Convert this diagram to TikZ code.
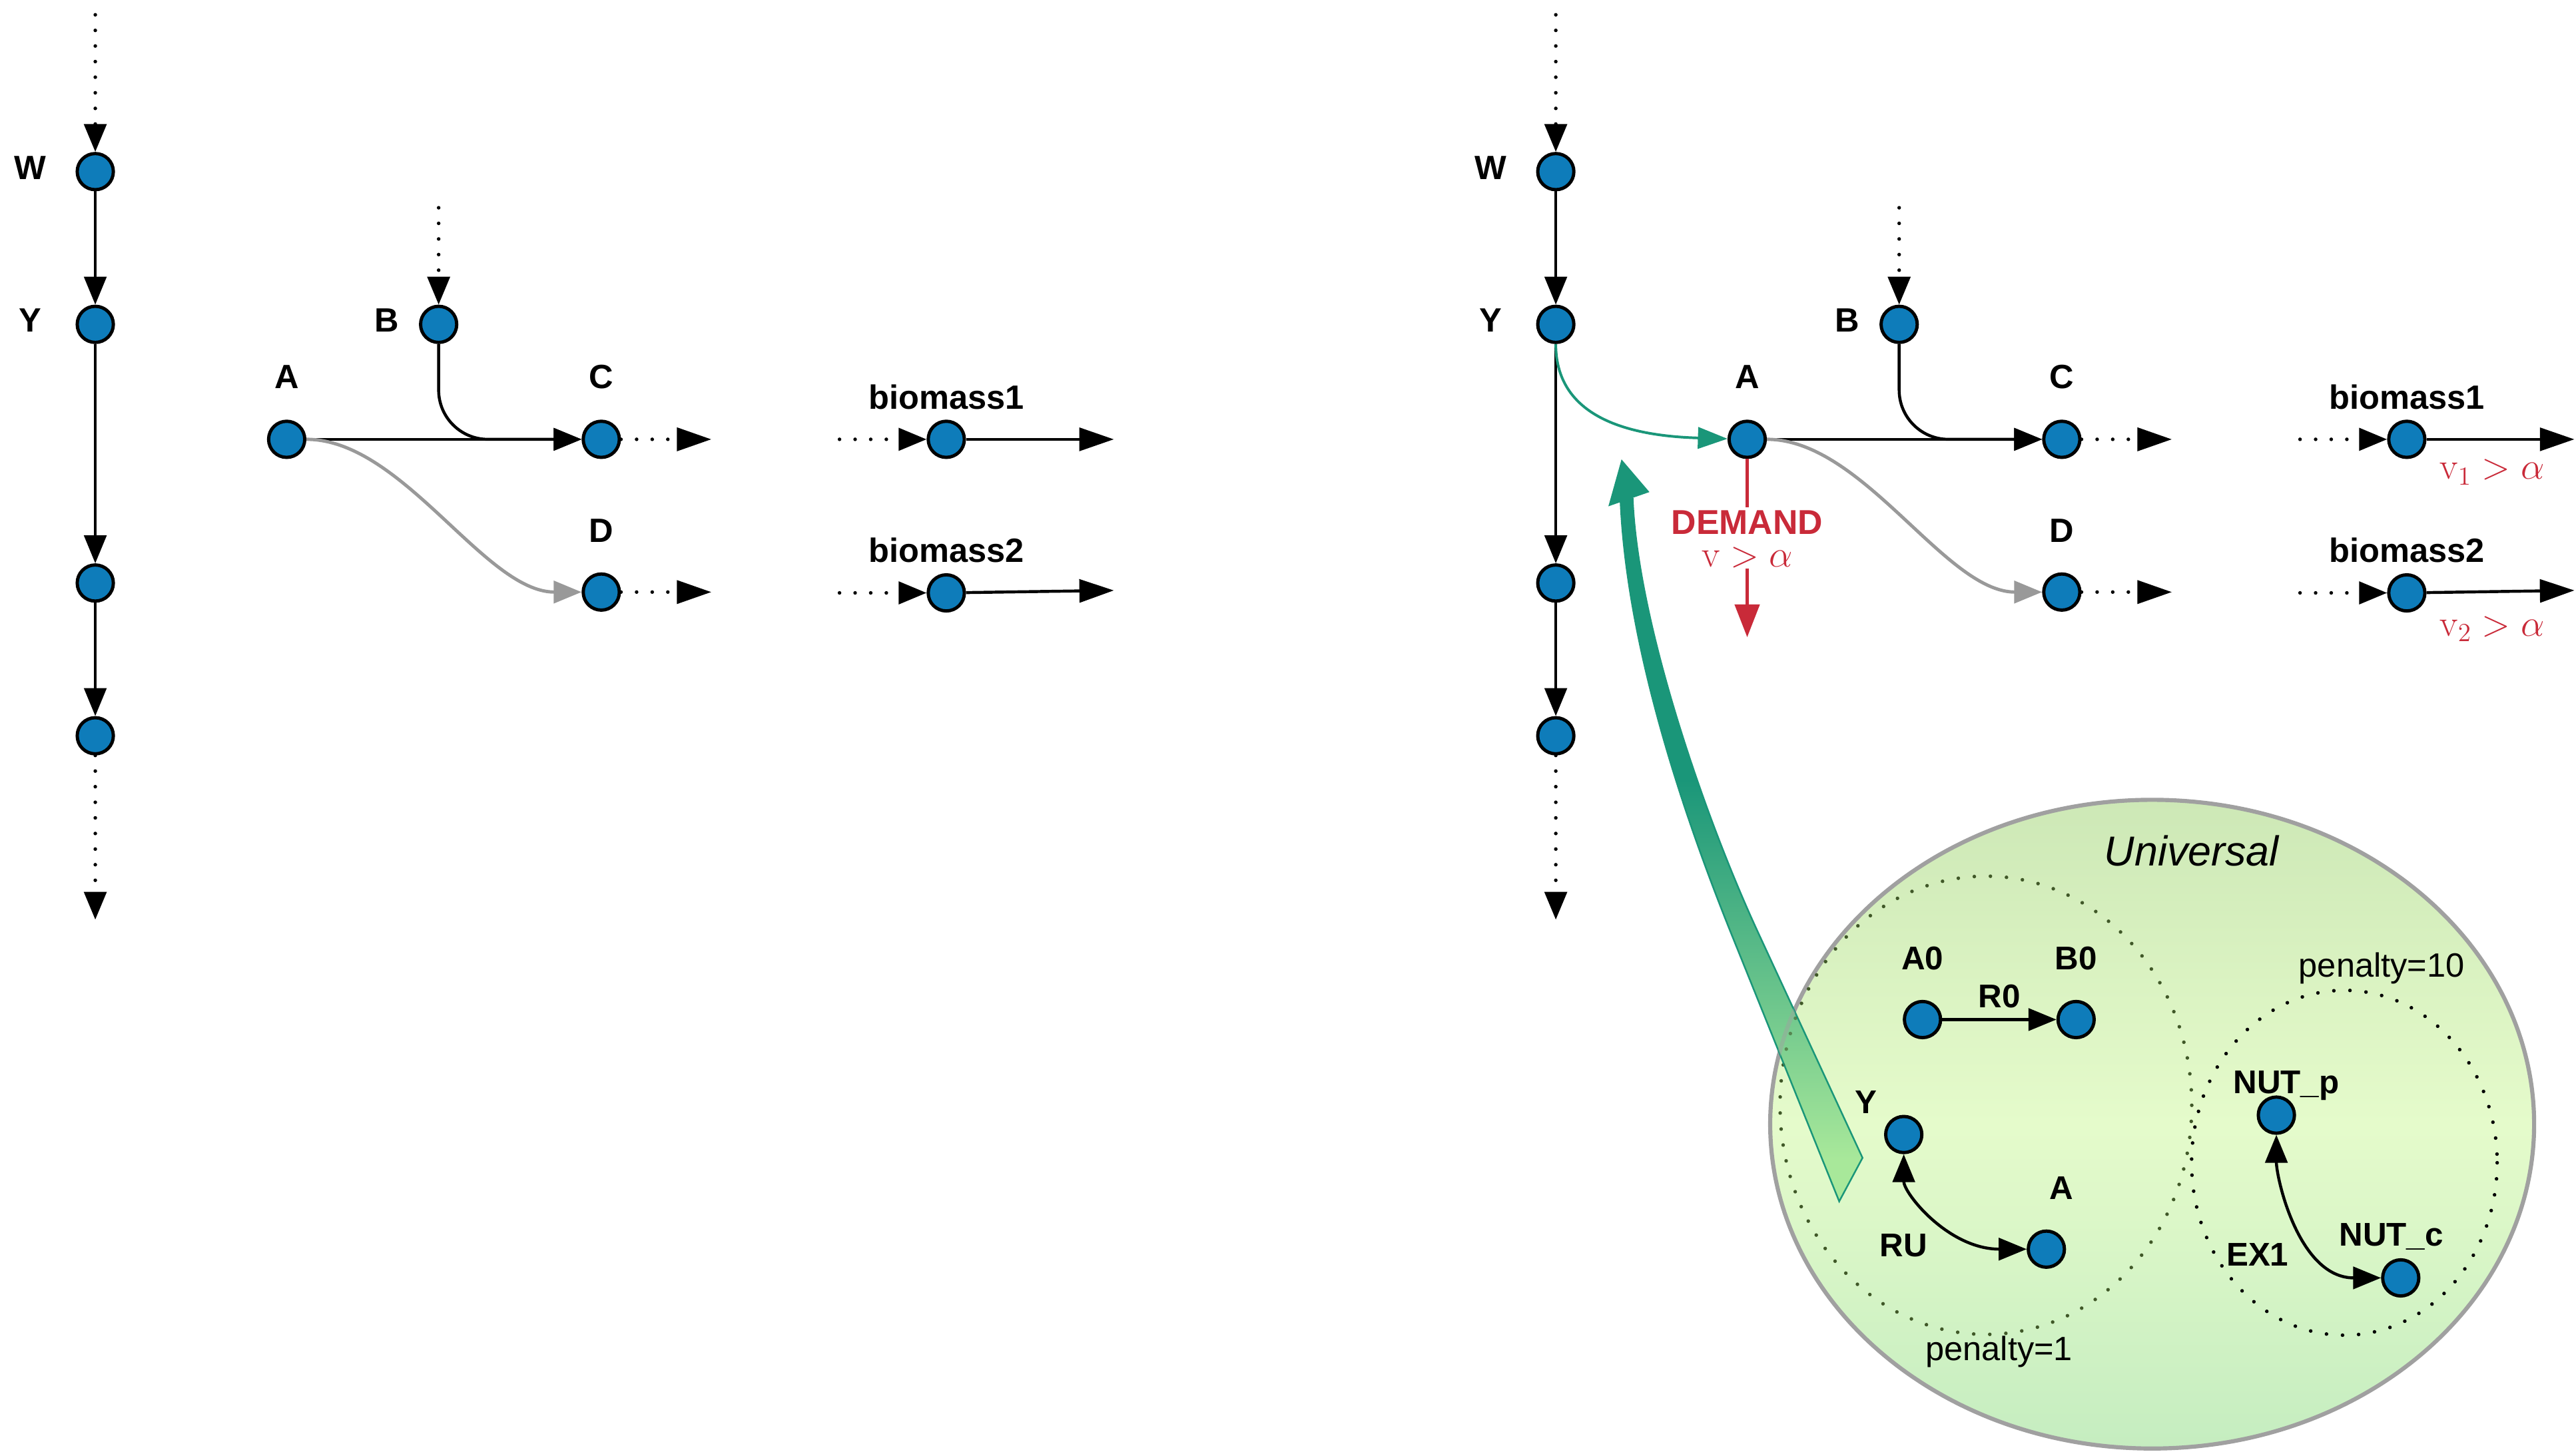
\documentclass[tikz,border=0pt]{standalone}
\usepackage{fontspec}
\usepackage{graphicx}
\usetikzlibrary{arrows.meta}
\newfontfamily\labfont{Liberation Sans}

\definecolor{metblue}{RGB}{14,124,186}
\definecolor{flowteal}{RGB}{26,150,121}
\definecolor{demred}{RGB}{201,42,57}
\definecolor{altgrey}{RGB}{153,153,153}
\definecolor{univedge}{RGB}{160,160,160}
\definecolor{univtop}{RGB}{205,232,182}
\definecolor{univmid}{RGB}{229,251,203}
\definecolor{univbot}{RGB}{197,237,192}
\definecolor{dotgreen}{RGB}{64,88,40}
\definecolor{bandlight}{RGB}{168,232,154}
\pgfdeclareverticalshading{shaftfade}{100bp}{color(0bp)=(bandlight); color(28bp)=(bandlight); color(55bp)=(flowteal); color(100bp)=(flowteal)}

\begin{document}
\begin{tikzpicture}[x=1pt,y=1pt,yscale=-1,
  >={Triangle[length=17pt,width=13.5pt]},
  met/.style={circle,draw=black,fill=metblue,line width=2pt,minimum size=22pt,inner sep=0pt},
  lbl/.style={inner sep=0pt,font=\labfont\bfseries\fontsize{20.5}{24}\selectfont},
  sublbl/.style={inner sep=0pt,font=\labfont\bfseries\fontsize{20}{24}\selectfont},
  pentxt/.style={inner sep=0pt,font=\labfont\fontsize{20.5}{24}\selectfont},
  flux/.style={line width=1.8pt,->},
  outflux/.style={line width=1.8pt,-{Triangle[length=21pt,width=14pt]}},
  dotflux/.style={line width=2.2pt,dash pattern=on 0pt off 9.5pt,line cap=round,->},
  dotout/.style={dotflux,-{Triangle[length=21pt,width=14pt]}},
  greyflux/.style={altgrey,line width=2pt,->},
  flow/.style={flowteal,line width=1.6pt,-{Triangle[length=18pt,width=13pt]}},
  demtxt/.style={demred,inner sep=1.5pt,font=\labfont\bfseries\fontsize{21}{24}\selectfont},
  demmath/.style={demred,inner sep=0pt,font=\fontsize{20.74}{26}\selectfont},
  ring/.style={line width=2.2pt,dash pattern=on 0pt off 9.8pt,line cap=round}
]
\useasboundingbox (0,0) rectangle (1568,884);

% universal set
\shade[top color=univtop,bottom color=univbot,middle color=univmid,draw=univedge,line width=2.5pt] (1310,684.5) ellipse [x radius=232.5,y radius=197.5];
\draw[dotgreen,ring] (1208.8,673) ellipse [x radius=125.3,y radius=139.5];
\draw[black,ring] (1427,708) ellipse [x radius=93,y radius=105];
\node[inner sep=0pt,font=\labfont\itshape\fontsize{25.5}{30}\selectfont] (univ) at (1334,518) {Universal};
\node[pentxt] (pen1) at (1216.8,823) {penalty=1};
\node[pentxt] (pen10) at (1449.7,589.5) {penalty=10};

% callout arrow
\shade[shading=shaftfade,draw=flowteal,line width=1pt] (986.4,304.7) .. controls (990,390) and (1021.8,489) .. (1054,569) -- (1119.5,731.5) -- (1133.7,705) -- (1070,567.5) .. controls (1037.6,497.5) and (997,380) .. (993.8,303.7) -- cycle;
\begin{scope}
  \clip (986.4,304.7) .. controls (990,390) and (1021.8,489) .. (1054,569) -- (1119.5,731.5) -- (1133.7,705) -- (1070,567.5) .. controls (1037.6,497.5) and (997,380) .. (993.8,303.7) -- cycle;
  \draw[univedge,line width=2.5pt,opacity=0.45] (1310,684.5) ellipse [x radius=232.5,y radius=197.5];
  \draw[dotgreen,ring,opacity=0.6] (1208.8,673) ellipse [x radius=125.3,y radius=139.5];
\end{scope}
\fill[flowteal] (987,279.7) -- (1004,299.6) -- (979,308.3) -- cycle;

% reactions inside the universal set
\node[met] (A0) at (1170.2,620.8) {};
\node[met] (B0) at (1263.7,620.8) {};
\node[met] (Yu) at (1158.8,690.8) {};
\node[met] (Au) at (1245.6,760.6) {};
\node[met] (NUTp) at (1385.6,679) {};
\node[met] (NUTc) at (1461.3,778.1) {};
\draw[flux] (A0) -- (B0);
\draw[flux,<->] (Yu) to[out=90,in=180,looseness=1.1] (Au);
\draw[flux,<->] (NUTp) to[out=90,in=180] (NUTc);
\node[sublbl] (lA0) at (1170.2,583.7) {A0};
\node[sublbl] (lB0) at (1263.7,583.7) {B0};
\node[sublbl] (lR0) at (1216.9,606.8) {R0};
\node[sublbl] (lYu) at (1135.8,670.9) {Y};
\node[sublbl] (lAu) at (1254.8,723.4) {A};
\node[sublbl] (lRU) at (1158.8,758.3) {RU};
\node[sublbl] (lNUTp) at (1391.6,661) {NUT\_p};
\node[sublbl] (lNUTc) at (1455.5,753) {NUT\_c};
\node[sublbl] (lEX1) at (1374.1,764) {EX1};

% the network, before and after
\foreach \s/\dx in {l/0,r/889}{
  \node[met] (W\s) at ({58+\dx},104.5) {};
  \node[met] (Y\s) at ({58+\dx},197.5) {};
  \node[met] (P\s) at ({58+\dx},355) {};
  \node[met] (Q\s) at ({58+\dx},448) {};
  \node[met] (B\s) at ({267+\dx},197.5) {};
  \node[met] (A\s) at ({174.5+\dx},267.5) {};
  \node[met] (C\s) at ({366+\dx},267.5) {};
  \node[met] (D\s) at ({366+\dx},360.5) {};
  \node[met] (bioa\s) at ({576+\dx},267.5) {};
  \node[met] (biob\s) at ({576+\dx},361) {};
  \node[lbl] (lW\s) at ({18.5+\dx},102) {W};
  \node[lbl] (lY\s) at ({18.5+\dx},195) {Y};
  \node[lbl] (lB\s) at ({235.5+\dx},195) {B};
  \node[lbl] (lA\s) at ({174.8+\dx},229.6) {A};
  \node[lbl] (lC\s) at ({366+\dx},229.6) {C};
  \node[lbl] (lD\s) at ({366+\dx},323) {D};
  \node[lbl] (lbioa\s) at ({576+\dx},241.7) {biomass1};
  \node[lbl] (lbiob\s) at ({576+\dx},335) {biomass2};
  \coordinate (Win\s) at ({58+\dx},9);
  \coordinate (Qout\s) at ({58+\dx},560);
  \coordinate (Bin\s) at ({267+\dx},126.5);
  \coordinate (Cout\s) at ({433+\dx},267.5);
  \coordinate (Dout\s) at ({433+\dx},360.5);
  \coordinate (bioain\s) at ({511+\dx},267.5);
  \coordinate (biobin\s) at ({511+\dx},361);
  \coordinate (bioaout\s) at ({678+\dx},267.5);
  \coordinate (bioout\s) at ({678+\dx},359.5);
  \draw[dotflux] (Win\s) -- (W\s);
  \draw[flux] (W\s) -- (Y\s);
  \draw[flux] (Y\s) -- (P\s);
  \draw[flux] (P\s) -- (Q\s);
  \draw[dotflux] (Q\s) -- (Qout\s);
  \draw[dotflux] (Bin\s) -- (B\s);
  \draw[flux] (A\s) -- (C\s);
  \draw[flux,rounded corners=30pt] (B\s) |- (C\s);
  \draw[greyflux] (A\s) .. controls ({245+\dx},267.5) and ({295+\dx},360.5) .. (D\s);
  \draw[dotout] (C\s) -- (Cout\s);
  \draw[dotout] (D\s) -- (Dout\s);
  \draw[dotflux] (bioain\s) -- (bioa\s);
  \draw[dotflux] (biobin\s) -- (biob\s);
  \draw[outflux] (bioa\s) -- (bioaout\s);
  \draw[outflux] (biob\s) -- (bioout\s);
}

% demand and constraints
\draw[flow] (Yr) .. controls (947,245) and (975,265) .. (Ar);
\node[demtxt] (dem) at (1063.5,318) {DEMAND};
\node[demmath] (demv) at (1063.5,339.5) {\scalebox{1.1}{$\mathrm{v}>\alpha$}};
\coordinate (demout) at (1063.5,388);
\draw[demred,line width=2pt] (Ar) -- (dem);
\draw[demred,line width=2pt,-{Triangle[length=20pt,width=15pt]}] (demv) -- (demout);
\node[demmath] (cona) at (1517,287.5) {\scalebox{1.1}{$\mathrm{v}_1>\alpha$}};
\node[demmath] (conb) at (1517,383) {\scalebox{1.1}{$\mathrm{v}_2>\alpha$}};

\end{tikzpicture}
\end{document}
